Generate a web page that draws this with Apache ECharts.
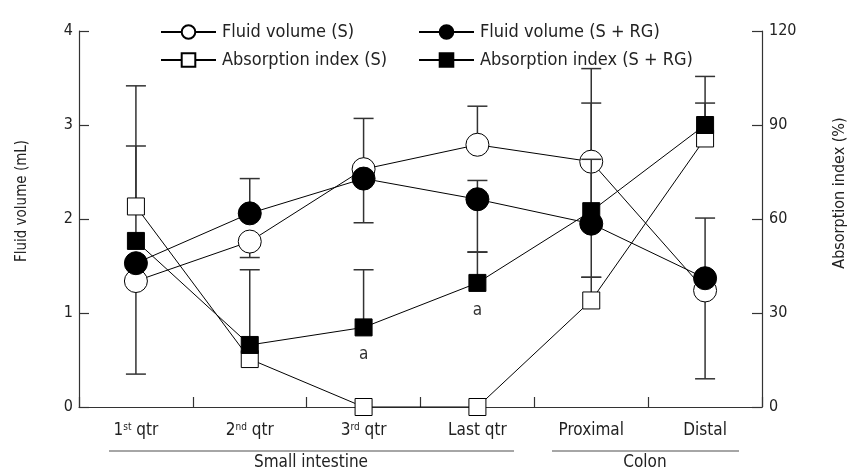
<!DOCTYPE html>
<html>
<head>
<meta charset="utf-8">
<script src="https://cdn.jsdelivr.net/npm/echarts@6/dist/echarts.min.js"></script>
<style>
html,body{margin:0;padding:0;background:#fff;}
#chart{width:849px;height:471px;}
</style>
</head>
<body>
<div id="chart"></div>
<script>
// ---------- data ----------
var categories = ['1st qtr', '2nd qtr', '3rd qtr', 'Last qtr', 'Proximal', 'Distal'];
var groups = ['Small intestine', 'Colon'];
var leftTicks = [0, 1, 2, 3, 4];
var rightTicks = [0, 30, 60, 90, 120];

var fluidS   = [1.34, 1.76, 2.53, 2.79, 2.61, 1.24];
var fluidSRG = [1.53, 2.06, 2.43, 2.21, 1.95, 1.37];
var absS     = [64, 15.3, 0, 0, 34, 85.7];
var absSRG   = [53, 19.8, 25.4, 39.6, 62.5, 90];

// error bar ends (null = not drawn)
var fluidSUpper   = [null, null, 3.07, 3.20, 3.60, null];
var fluidSLower   = [0.35, 1.59, null, null, null, 0.30];
var fluidSRGUpper = [null, 2.43, null, 2.41, 2.635, 2.01];
var fluidSRGLower = [null, null, 1.96, 1.65, 1.38, null];
var absSUpper     = [102.5, null, null, null, 41.4, 105.5];
var absSRGUpper   = [83.3, 43.8, 43.8, 49.4, 97, 97];

var sig = ['', '', 'a', 'a', '', ''];

// ---------- chart ----------
var FONT = "'DejaVu Sans Condensed', 'DejaVu Sans', sans-serif";
var chart = echarts.init(document.getElementById('chart'), null, {renderer: 'canvas'});

function supLabel(v) {
  var m = /^(\d)(st|nd|rd|th) (.*)$/.exec(v);
  if (m) return m[1] + '{sup|' + m[2] + '}{t| ' + m[3] + '}';
  return v;
}

function errData(vals, ends) {
  var out = [];
  for (var i = 0; i < vals.length; i++) {
    if (ends[i] != null) out.push([i, vals[i], ends[i]]);
  }
  return out;
}

function errSeries(name, vals, ends, yAxisIndex, z) {
  return {
    type: 'custom', name: name, yAxisIndex: yAxisIndex, z: z, silent: true,
    data: errData(vals, ends),
    encode: {x: 0, y: [1, 2]},
    renderItem: function (params, api) {
      var x = api.value(0);
      var p0 = api.coord([x, api.value(1)]);
      var p1 = api.coord([x, api.value(2)]);
      var w = 10;
      var st = {stroke: '#333', lineWidth: 1.5};
      return {type: 'group', children: [
        {type: 'line', shape: {x1: p0[0], y1: p0[1], x2: p1[0], y2: p1[1]}, style: st},
        {type: 'line', shape: {x1: p1[0] - w, y1: p1[1], x2: p1[0] + w, y2: p1[1]}, style: st}
      ]};
    }
  };
}

function lineSeries(name, data, yAxisIndex, symbol, size, fill) {
  return {
    type: 'line', name: name, data: data, yAxisIndex: yAxisIndex, z: 2,
    symbol: symbol, symbolSize: size, showAllSymbol: true,
    lineStyle: {color: '#000', width: 1},
    itemStyle: {color: fill, borderColor: '#000', borderWidth: 1},
    emphasis: {disabled: true}, animation: false
  };
}

function markerSeries(name, data, yAxisIndex, symbol, size, fill, z, label) {
  var s = {
    type: 'scatter', name: name, data: data, yAxisIndex: yAxisIndex, z: z,
    symbol: symbol, symbolSize: size, silent: true,
    itemStyle: {color: fill, borderColor: '#000', borderWidth: 1, opacity: 1},
    emphasis: {disabled: true}, animation: false
  };
  if (label) s.label = label;
  return s;
}

var legendCommon = {
  orient: 'vertical', top: 18, itemWidth: 55, itemHeight: 17, itemGap: 10,
  selectedMode: false,
  textStyle: {fontSize: 18, fontFamily: FONT, color: '#222', padding: [0, 0, 0, 1]}
};

var option = {
  animation: false,
  backgroundColor: '#fff',
  textStyle: {fontFamily: FONT},
  grid: {left: 79, right: 87, top: 31, bottom: 64, containLabel: false},
  legend: [
    Object.assign({}, legendCommon, {left: 155, data: ['Fluid volume (S)', 'Absorption index (S)']}),
    Object.assign({}, legendCommon, {left: 413, data: ['Fluid volume (S + RG)', 'Absorption index (S + RG)']})
  ],
  xAxis: {
    type: 'category', data: categories, boundaryGap: true,
    axisLine: {lineStyle: {color: '#333', width: 1.2}},
    axisTick: {show: true, inside: true, length: 10, alignWithLabel: false, lineStyle: {color: '#333', width: 1.2}},
    axisLabel: {
      margin: 15, fontSize: 17, fontFamily: FONT, color: '#222', interval: 0,
      formatter: supLabel,
      rich: {
        sup: {fontSize: 10, fontFamily: FONT, color: '#222', verticalAlign: 'top', lineHeight: 12, padding: [0, 0, 7, 0]},
        t: {fontSize: 17, fontFamily: FONT, color: '#222'}
      }
    }
  },
  yAxis: [
    {
      type: 'value', min: leftTicks[0], max: leftTicks[leftTicks.length - 1], interval: 1,
      splitLine: {show: false},
      axisLine: {show: true, lineStyle: {color: '#333', width: 1.2}},
      axisTick: {show: true, inside: true, length: 10, lineStyle: {color: '#333', width: 1.2}},
      axisLabel: {margin: 6, fontSize: 16, fontFamily: FONT, color: '#222'}
    },
    {
      type: 'value', min: rightTicks[0], max: rightTicks[rightTicks.length - 1], interval: 30,
      position: 'right', splitLine: {show: false},
      axisLine: {show: true, lineStyle: {color: '#333', width: 1.2}},
      axisTick: {show: true, inside: true, length: 10, lineStyle: {color: '#333', width: 1.2}},
      axisLabel: {margin: 7, fontSize: 16, fontFamily: FONT, color: '#222'}
    }
  ],
  series: [
    lineSeries('Fluid volume (S)', fluidS, 0, 'circle', 13, '#fff'),
    lineSeries('Absorption index (S)', absS, 1, 'rect', 13, '#fff'),
    lineSeries('Fluid volume (S + RG)', fluidSRG, 0, 'circle', 13, '#000'),
    lineSeries('Absorption index (S + RG)', absSRG, 1, 'rect', 13, '#000'),

    errSeries('eFS_u', fluidS, fluidSUpper, 0, 3),
    errSeries('eFS_l', fluidS, fluidSLower, 0, 3),
    errSeries('eAS_u', absS, absSUpper, 1, 3),
    errSeries('eASRG_u', absSRG, absSRGUpper, 1, 3),

    markerSeries('mFS', fluidS, 0, 'circle', 23, '#fff', 5),
    markerSeries('mAS', absS, 1, 'rect', 17, '#fff', 5),

    errSeries('eFSRG_u', fluidSRG, fluidSRGUpper, 0, 6),
    errSeries('eFSRG_l', fluidSRG, fluidSRGLower, 0, 6),

    markerSeries('mASRG', absSRG, 1, 'rect', 17, '#000', 7, {
      show: true, position: 'bottom', distance: 10, fontSize: 17, fontFamily: FONT, color: '#333',
      formatter: function (p) { return sig[p.dataIndex]; }
    }),
    markerSeries('mFSRG', fluidSRG, 0, 'circle', 23, '#000', 8)
  ],
  graphic: [
    {type: 'line', shape: {x1: 109, y1: 451, x2: 514, y2: 451}, style: {stroke: '#888', lineWidth: 1.5}},
    {type: 'line', shape: {x1: 552, y1: 451, x2: 739, y2: 451}, style: {stroke: '#888', lineWidth: 1.5}},
    {type: 'text', x: 311, y: 463, style: {text: groups[0], font: '17px ' + FONT, fill: '#222', textAlign: 'center', textVerticalAlign: 'middle'}},
    {type: 'text', x: 645, y: 463, style: {text: groups[1], font: '17px ' + FONT, fill: '#222', textAlign: 'center', textVerticalAlign: 'middle'}},
    {type: 'text', x: 22, y: 201, rotation: Math.PI / 2, style: {text: 'Fluid volume (mL)', font: '15px ' + FONT, fill: '#222', textAlign: 'center', textVerticalAlign: 'middle'}},
    {type: 'text', x: 840, y: 193, rotation: Math.PI / 2, style: {text: 'Absorption index (%)', font: '16px ' + FONT, fill: '#222', textAlign: 'center', textVerticalAlign: 'middle'}}
  ]
};
chart.setOption(option);
</script>
</body>
</html>
